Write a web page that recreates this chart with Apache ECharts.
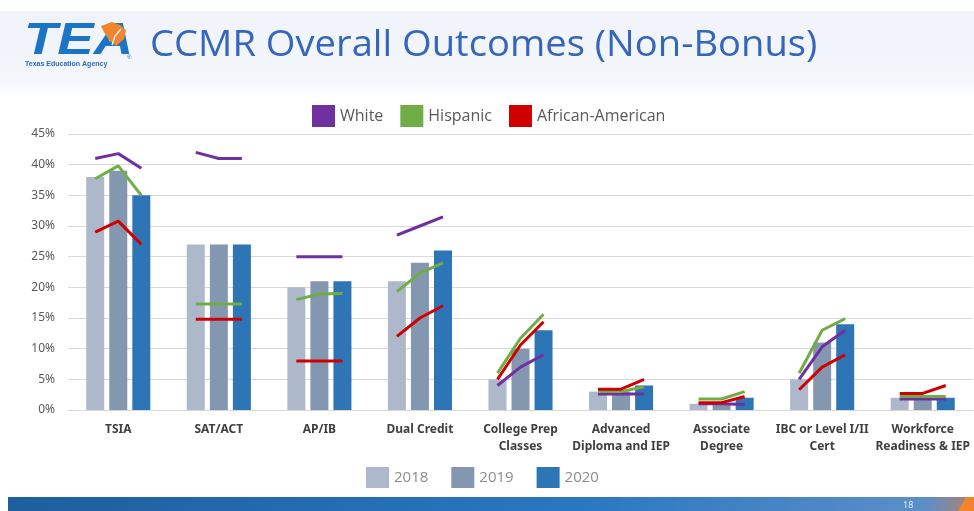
<!DOCTYPE html>
<html>
<head>
<meta charset="utf-8">
<title>CCMR Overall Outcomes (Non-Bonus)</title>
<script src="https://cdn.jsdelivr.net/npm/echarts@6/dist/echarts.min.js"></script>
<style>
  html, body { margin: 0; padding: 0; background: #fff; }
  #chart { width: 974px; height: 511px; }
</style>
</head>
<body>
<div id="chart"></div>
<script>
// categories and year bars (percent)
var categories = ['TSIA', 'SAT/ACT', 'AP/IB', 'Dual Credit', 'College Prep\nClasses',
  'Advanced\nDiploma and IEP', 'Associate\nDegree', 'IBC or Level I/II\nCert', 'Workforce\nReadiness & IEP'];
var years = ['2018', '2019', '2020'];
var bars2018 = [38, 27, 20, 21, 5, 3, 1, 5, 2];
var bars2019 = [39, 27, 21, 24, 10, 3, 1, 11, 2];
var bars2020 = [35, 27, 21, 26, 13, 4, 2, 14, 2];

// group lines, one triple (2018, 2019, 2020) per category
var white = [[41, 41.8, 39.4], [42, 41, 41], [25, 25, 25], [28.5, 30, 31.5], [4, 7, 9],
  [2.6, 2.6, 2.6], [1, 1, 0.9], [5, 10.3, 13], [1.8, 1.8, 1.8]];
var hispanic = [[37.7, 39.8, 35], [17.3, 17.3, 17.3], [18, 18.9, 19], [19.3, 22.3, 24], [6, 11.7, 15.6],
  [3, 3, 3.8], [1.8, 1.8, 3], [6, 13, 14.9], [2.2, 2.2, 2.2]];
var african = [[29, 30.8, 27], [14.8, 14.8, 14.8], [8, 8, 8], [12, 15, 17], [5, 10.6, 14.4],
  [3.4, 3.4, 5], [1.2, 1.2, 2.2], [3.3, 7, 9], [2.7, 2.7, 4]];

var yTicks = [0, 5, 10, 15, 20, 25, 30, 35, 40, 45];

var gridLeft = 68, gridWidth = 905;
var barW = 18, barGapPct = 0.28;
// offset of side bars from category centre, in category units
var off = (barW * (1 + barGapPct)) / (gridWidth / categories.length);

function lineData(groups) {
  var out = [];
  groups.forEach(function (g, i) {
    g.forEach(function (v, j) { out.push([i + (j - 1) * off, v]); });
    out.push([i + 0.5, '-']);
  });
  return out;
}

var myChart = echarts.init(document.getElementById('chart'));

var barColors = ['#ADB9CA', '#8497B0', '#2E75B6'];

var option = {
  animation: false,
  textStyle: { fontFamily: 'Noto Sans' },
  graphic: [
    {
      type: 'rect', left: 0, top: 11, z: -1,
      shape: { width: 974, height: 86 },
      style: {
        fill: new echarts.graphic.LinearGradient(0, 0, 0, 1, [
          { offset: 0, color: '#F0F4FA' }, { offset: 0.8, color: '#F3F6FB' }, { offset: 1, color: '#FFFFFF' }
        ])
      }
    },
    // logo
    {
      type: 'text', x: 24, y: 42, scaleX: 1.24,
      style: { text: 'TEA', font: 'italic 900 44px "Liberation Sans"', fill: '#1C75C4', verticalAlign: 'middle' }
    },
    {
      type: 'polygon',
      shape: { points: [[101, 26], [112, 22], [120, 25], [126, 30], [124, 39], [116, 46], [109, 40], [104, 32]] },
      style: { fill: '#F0852D' }
    },
    {
      type: 'polyline',
      shape: { points: [[112, 45], [115, 36], [121, 29]] },
      style: { stroke: '#FFFFFF', lineWidth: 1.2, fill: null }
    },
    {
      type: 'text', x: 127, y: 54,
      style: { text: '®', font: '6px "Liberation Sans"', fill: '#1C75C4' }
    },
    {
      type: 'text', x: 25, y: 61,
      style: { text: 'Texas Education Agency', font: 'bold 7px "Liberation Sans"', fill: '#2F6DB5' }
    },
    // title
    {
      type: 'text', x: 150, y: 46, scaleX: 1.06,
      style: { text: 'CCMR Overall Outcomes (Non-Bonus)', font: '36px "Open Sans"', fill: '#3565BC', verticalAlign: 'middle' }
    },
    // footer band
    {
      type: 'rect', left: 8, top: 497,
      shape: { width: 966, height: 14 },
      style: {
        fill: new echarts.graphic.LinearGradient(0, 0, 1, 0, [
          { offset: 0, color: '#1D5E9E' }, { offset: 0.6, color: '#2A78C0' }, { offset: 0.95, color: '#5B8FC8' }, { offset: 1, color: '#B08070' }
        ])
      }
    },
    {
      type: 'polygon',
      shape: { points: [[966, 497], [974, 497], [974, 511], [958, 511]] },
      style: { fill: '#F0852D' }
    },
    {
      type: 'text', x: 903, y: 501,
      style: { text: '18', font: '9px "Noto Sans"', fill: '#E6EEF8' }
    }
  ],
  legend: [
    {
      data: ['White', 'Hispanic', 'African-American'],
      left: 312, top: 105, padding: 0,
      icon: 'rect', itemWidth: 23, itemHeight: 22, itemGap: 17,
      textStyle: { color: '#595959', fontSize: 16, fontFamily: 'Open Sans' }
    },
    {
      data: years,
      left: 366, top: 467, padding: 0,
      icon: 'rect', itemWidth: 23, itemHeight: 21, itemGap: 23,
      textStyle: { color: '#8C8C8C', fontSize: 15, fontFamily: 'Open Sans' }
    }
  ],
  grid: { left: gridLeft, width: gridWidth, top: 134, height: 276 },
  xAxis: [
    {
      type: 'category', data: categories,
      axisLine: { lineStyle: { color: '#D9D9D9' } },
      axisTick: { show: false },
      axisLabel: {
        interval: 0, color: '#404040', fontSize: 12, fontWeight: 'bold',
        fontFamily: 'Noto Sans', lineHeight: 17, margin: 11
      }
    },
    { type: 'value', min: -0.5, max: 8.5, show: false }
  ],
  yAxis: {
    type: 'value', min: 0, max: 45, interval: 5,
    axisLine: { show: false }, axisTick: { show: false },
    splitLine: { lineStyle: { color: '#D9D9D9' } },
    axisLabel: {
      formatter: function (v) { return yTicks.indexOf(v) >= 0 ? v + '%' : ''; },
      color: '#595959', fontSize: 12, margin: 13
    }
  },
  series: [
    { name: '2018', type: 'bar', data: bars2018, barWidth: barW, barGap: (barGapPct * 100) + '%', itemStyle: { color: barColors[0] } },
    { name: '2019', type: 'bar', data: bars2019, barWidth: barW, barGap: (barGapPct * 100) + '%', itemStyle: { color: barColors[1] } },
    { name: '2020', type: 'bar', data: bars2020, barWidth: barW, barGap: (barGapPct * 100) + '%', itemStyle: { color: barColors[2] } },
    { name: 'White', type: 'line', xAxisIndex: 1, data: lineData(white), showSymbol: false, z: 5,
      lineStyle: { width: 3, color: '#7030A0' }, itemStyle: { color: '#7030A0' } },
    { name: 'Hispanic', type: 'line', xAxisIndex: 1, data: lineData(hispanic), showSymbol: false, z: 5,
      lineStyle: { width: 3, color: '#70AD47' }, itemStyle: { color: '#70AD47' } },
    { name: 'African-American', type: 'line', xAxisIndex: 1, data: lineData(african), showSymbol: false, z: 5,
      lineStyle: { width: 3, color: '#D00000' }, itemStyle: { color: '#D00000' } }
  ]
};

myChart.setOption(option);
</script>
</body>
</html>
